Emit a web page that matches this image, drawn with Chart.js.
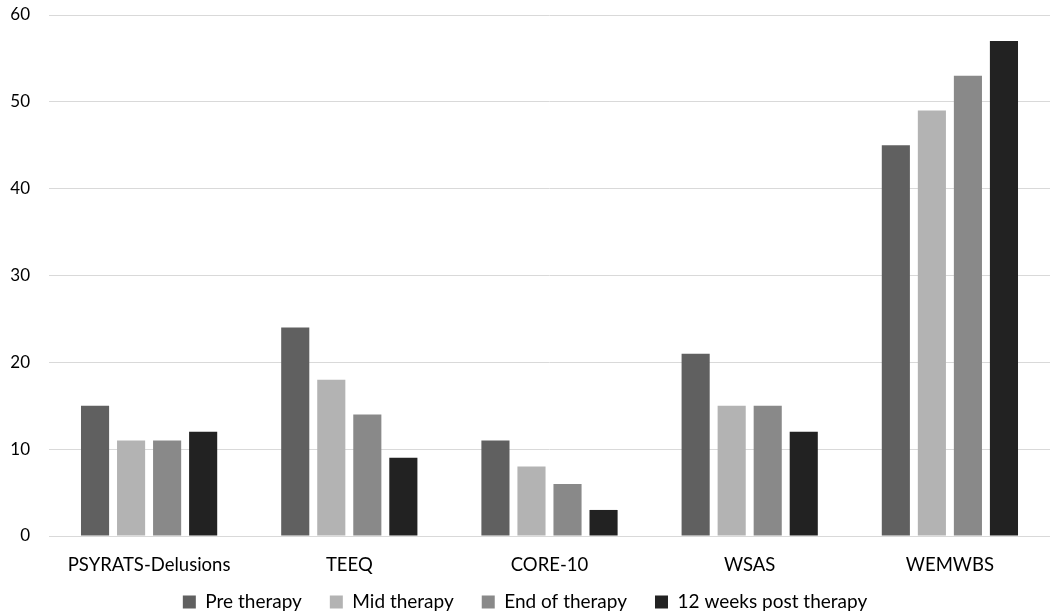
<!DOCTYPE html>
<html>
<head>
<meta charset="utf-8">
<script src="https://cdn.jsdelivr.net/npm/chart.js@4.4.0/dist/chart.umd.min.js"></script>
<style>
    html, body {margin: 0; padding: 0; background: #ffffff;}
    #wrap {width: 1050px; height: 614px; position: relative;}
</style>
</head>
<body>
<div id="wrap"><canvas id="outcome_canvas"></canvas></div>
<script>
const measures = ["PSYRATS-Delusions", "TEEQ", "CORE-10", "WSAS", "WEMWBS"];

const pre_therapy = [15, 24, 11, 21, 45];
const mid_therapy = [11, 18, 8, 15, 49];
const end_of_therapy = [11, 14, 6, 15, 53];
const post_12_weeks = [12, 9, 3, 12, 57];

const series_names = ["Pre therapy", "Mid therapy", "End of therapy", "12 weeks post therapy"];
const series_colors = ["#606060", "#b3b3b3", "#898989", "#222222"];
const series_values = [pre_therapy, mid_therapy, end_of_therapy, post_12_weeks];

const y_min = 0;
const y_max = 60;
const y_step = 10;

Chart.defaults.font.family = "Lato, 'Open Sans', sans-serif";
Chart.defaults.font.size = 17;
Chart.defaults.color = "#000000";

let datasets = [];
for (let i = 0; i < series_names.length; i++) {
    datasets.push({
        label: series_names[i],
        data: series_values[i],
        backgroundColor: series_colors[i],
        borderWidth: 0,
        categoryPercentage: 0.72,
        barPercentage: 0.78
    });
}

let config = {
    type: 'bar',
    data: {
        labels: measures,
        datasets: datasets
    },
    options: {
        responsive: true,
        maintainAspectRatio: false,
        animation: false,
        layout: {
            padding: {top: 0, right: 0, left: 0, bottom: -7.5}
        },
        plugins: {
            legend: {
                position: 'bottom',
                labels: {
                    boxWidth: 13,
                    boxHeight: 13,
                    padding: 28,
                    font: {size: 19}
                }
            },
            tooltip: {enabled: false}
        },
        scales: {
            x: {
                grid: {display: false},
                border: {color: '#d9d9d9', width: 1},
                ticks: {padding: 10, font: {size: 18.5}},
                afterFit: function (scale) {
                    // short box so the legend sits close; labels may hang below it
                    scale.height = 28.5;
                    scale._computeLabelArea = function () { return undefined; };
                }
            },
            y: {
                min: y_min,
                max: y_max,
                ticks: {stepSize: y_step, padding: 19},
                grid: {color: '#d9d9d9', drawTicks: false},
                border: {display: false},
                afterFit: function (scale) {
                    // keep the top gridline near the top edge, fixed axis width
                    scale.paddingTop = 15;
                    scale.paddingBottom = 0;
                    scale.width = 49;
                }
            }
        }
    }
};

const outcome_plot = new Chart(document.getElementById('outcome_canvas'), config);
</script>
</body>
</html>
